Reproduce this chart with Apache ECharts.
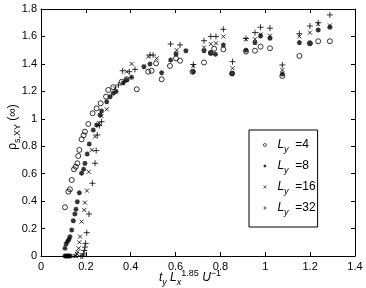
<!DOCTYPE html>
<html><head><meta charset="utf-8">
<script src="https://cdn.jsdelivr.net/npm/echarts@6/dist/echarts.min.js"></script>
<style>html,body{margin:0;padding:0;background:#fff}#c{width:366px;height:288px}</style>
</head><body><div id="c"></div>
<script>
// ---- data ----
const seriesNames = ['Ly=4', 'Ly=8', 'Ly=16', 'Ly=32'];
const legendLabels = ['4', '8', '16', '32'];
const ly4 = [[0.107,0.355],[0.122,0.469],[0.129,0.486],[0.137,0.554],[0.147,0.632],[0.155,0.651],[0.162,0.676],[0.166,0.729],[0.171,0.773],[0.181,0.85],[0.190,0.88],[0.196,0.906],[0.211,0.962],[0.230,1.040],[0.248,1.076],[0.266,1.113],[0.290,1.161],[0.300,1.210],[0.322,1.230],[0.360,1.270],[0.382,1.288],[0.427,1.215],[0.478,1.343],[0.493,1.350],[0.513,1.404],[0.538,1.288],[0.575,1.385],[0.602,1.440],[0.620,1.423],[0.676,1.343],[0.727,1.410],[0.757,1.480],[0.772,1.510],[0.813,1.506],[0.852,1.330],[0.914,1.490],[0.954,1.496],[0.979,1.526],[1.021,1.514],[1.076,1.312],[1.152,1.458],[1.199,1.550],[1.236,1.565],[1.288,1.565]];
const ly8 = [[0.107,0],[0.112,0],[0.118,0],[0.124,0],[0.130,0],[0.107,0.056],[0.112,0.087],[0.118,0.105],[0.124,0.120],[0.129,0.141],[0.137,0.190],[0.144,0.257],[0.151,0.306],[0.156,0.340],[0.162,0.396],[0.171,0.461],[0.181,0.603],[0.190,0.632],[0.196,0.675],[0.206,0.743],[0.215,0.816],[0.233,0.918],[0.248,0.955],[0.263,1.028],[0.270,1.057],[0.293,1.125],[0.308,1.161],[0.322,1.186],[0.335,1.198],[0.367,1.263],[0.382,1.283],[0.404,1.302],[0.459,1.380],[0.486,1.400],[0.538,1.336],[0.578,1.428],[0.602,1.472],[0.646,1.496],[0.679,1.343],[0.727,1.496],[0.757,1.480],[0.778,1.470],[0.813,1.538],[0.852,1.330],[0.914,1.500],[0.954,1.555],[0.979,1.603],[1.021,1.587],[1.076,1.327],[1.152,1.555],[1.199,1.550],[1.236,1.647],[1.288,1.667]];
const ly16 = [[0.150,0],[0.156,0],[0.160,0.015],[0.163,0.030],[0.168,0.056],[0.171,0.100],[0.174,0.141],[0.181,0.250],[0.193,0.335],[0.196,0.389],[0.205,0.476],[0.213,0.614],[0.226,0.773],[0.241,0.870],[0.260,0.967],[0.270,1.020],[0.293,1.069],[0.330,1.222],[0.382,1.343],[0.404,1.400],[0.478,1.453],[0.516,1.440],[0.605,1.500],[0.679,1.385],[0.727,1.520],[0.757,1.545],[0.780,1.550],[0.813,1.600],[0.854,1.368],[0.914,1.580],[0.954,1.580],[0.979,1.615],[1.021,1.605],[1.076,1.356],[1.152,1.600],[1.199,1.628],[1.236,1.690],[1.288,1.680]];
const ly32 = [[0.178,0],[0.186,0],[0.190,0.015],[0.193,0.040],[0.196,0.065],[0.199,0.092],[0.204,0.170],[0.214,0.306],[0.229,0.530],[0.241,0.676],[0.246,0.768],[0.251,0.882],[0.260,0.950],[0.270,0.979],[0.345,1.246],[0.364,1.350],[0.394,1.343],[0.419,1.360],[0.486,1.465],[0.500,1.465],[0.578,1.545],[0.620,1.538],[0.679,1.395],[0.727,1.569],[0.757,1.600],[0.780,1.600],[0.813,1.652],[0.854,1.416],[0.914,1.585],[0.954,1.628],[0.979,1.667],[1.021,1.660],[1.076,1.392],[1.152,1.620],[1.199,1.676],[1.236,1.700],[1.288,1.757]];
const xMin = 0, xMax = 1.4, xStep = 0.2;
const yMin = 0, yMax = 1.8, yStep = 0.2;

const FONT = 'Liberation Sans, Arial, Helvetica, sans-serif';
const symPlus = 'path://M0,-1L0,1M-1,0L1,0';
const symCross = 'path://M-1,-1L1,1M-1,1L1,-1';
const symStar = 'path://M0,-1L0,1M-1,0L1,0M-0.72,-0.72L0.72,0.72M-0.72,0.72L0.72,-0.72';

const chart = echarts.init(document.getElementById('c'), null, {renderer: 'canvas'});
const axisCommon = {
  type: 'value', splitLine: {show: false},
  axisLine: {show: true, onZero: false, lineStyle: {color: '#000', width: 1}},
  axisTick: {show: true, inside: true, length: 4, lineStyle: {color: '#000', width: 1}},
};
function mk(name, data, symbol, size, style) {
  return {name, type: 'scatter', data, symbol, symbolSize: size, xAxisIndex: 0, yAxisIndex: 0,
    itemStyle: style, emphasis: {disabled: true}, animation: false};
}
const lineSty = {color: '#000', borderColor: '#000', borderWidth: 1};
chart.setOption({
  animation: false,
  grid: {left: 41, right: 11, top: 9, bottom: 32, containLabel: false},
  xAxis: [
    Object.assign({}, axisCommon, {position: 'bottom', min: xMin, max: xMax, interval: xStep,
      axisLabel: {color: '#000', fontSize: 11, fontFamily: FONT, margin: 5}}),
    Object.assign({}, axisCommon, {position: 'top', min: xMin, max: xMax, interval: xStep,
      axisLabel: {show: false}})
  ],
  yAxis: [
    Object.assign({}, axisCommon, {position: 'left', min: yMin, max: yMax, interval: yStep,
      axisLabel: {color: '#000', fontSize: 11, fontFamily: FONT, margin: 4}}),
    Object.assign({}, axisCommon, {position: 'right', min: yMin, max: yMax, interval: yStep,
      axisLabel: {show: false}})
  ],
  legend: {
    orient: 'vertical', left: 249, top: 130,
    data: seriesNames,
    itemWidth: 15, itemHeight: 3, itemGap: 6,
    padding: [9, 2, 10, 14],
    borderColor: '#000', borderWidth: 1, borderRadius: 0, backgroundColor: '#fff',
    selectedMode: false,
    itemStyle: {borderWidth: 0.8},
    formatter: function (n) { return '{i|L}{s|y}{n|  =' + legendLabels[seriesNames.indexOf(n)] + '}'; },
    textStyle: {color: '#000', fontFamily: FONT, fontSize: 12,
      rich: {
        i: {fontSize: 12, fontStyle: 'italic', fontFamily: FONT, verticalAlign: 'middle', lineHeight: 18},
        s: {fontSize: 9, fontStyle: 'italic', fontFamily: FONT, verticalAlign: 'bottom', lineHeight: 18},
        n: {fontSize: 12, fontFamily: FONT, verticalAlign: 'middle', lineHeight: 18}
      }}
  },
  graphic: [
    {type: 'text', x: 13, y: 127, rotation: Math.PI / 2, silent: true,
      style: {text: '{r|ρ}{s|s,XY}{n| (∞)}', align: 'center', verticalAlign: 'middle', fill: '#000',
        rich: {
          r: {fontSize: 12, fontFamily: FONT, verticalAlign: 'middle', lineHeight: 18, fill: '#000'},
          s: {fontSize: 9, fontFamily: FONT, verticalAlign: 'bottom', lineHeight: 18, fill: '#000'},
          n: {fontSize: 12, fontFamily: FONT, verticalAlign: 'middle', lineHeight: 18, fill: '#000'}
        }}},
    {type: 'text', x: 190, y: 278, silent: true,
      style: {text: '{i|t}{s|y}{i| L}{s|x}{p|1.85}{n| }{i|U}{p|−1}', align: 'center', verticalAlign: 'middle', fill: '#000',
        rich: {
          i: {fontSize: 12, fontStyle: 'italic', fontFamily: FONT, verticalAlign: 'middle', lineHeight: 18, fill: '#000'},
          s: {fontSize: 9, fontStyle: 'italic', fontFamily: FONT, verticalAlign: 'bottom', lineHeight: 18, fill: '#000'},
          p: {fontSize: 9, fontFamily: FONT, verticalAlign: 'top', lineHeight: 18, fill: '#000'},
          n: {fontSize: 12, fontFamily: FONT, verticalAlign: 'middle', lineHeight: 18, fill: '#000'}
        }}}
  ],
  series: [
    mk(seriesNames[0], ly4, 'circle', 5, {color: 'rgba(0,0,0,0)', borderColor: '#000', borderWidth: 1}),
    mk(seriesNames[1], ly8, symStar, 5, {color: '#000', borderColor: '#000', borderWidth: 1.3}),
    mk(seriesNames[2], ly16, symCross, 4, lineSty),
    mk(seriesNames[3], ly32, symPlus, 6, lineSty)
  ]
});
</script></body></html>
